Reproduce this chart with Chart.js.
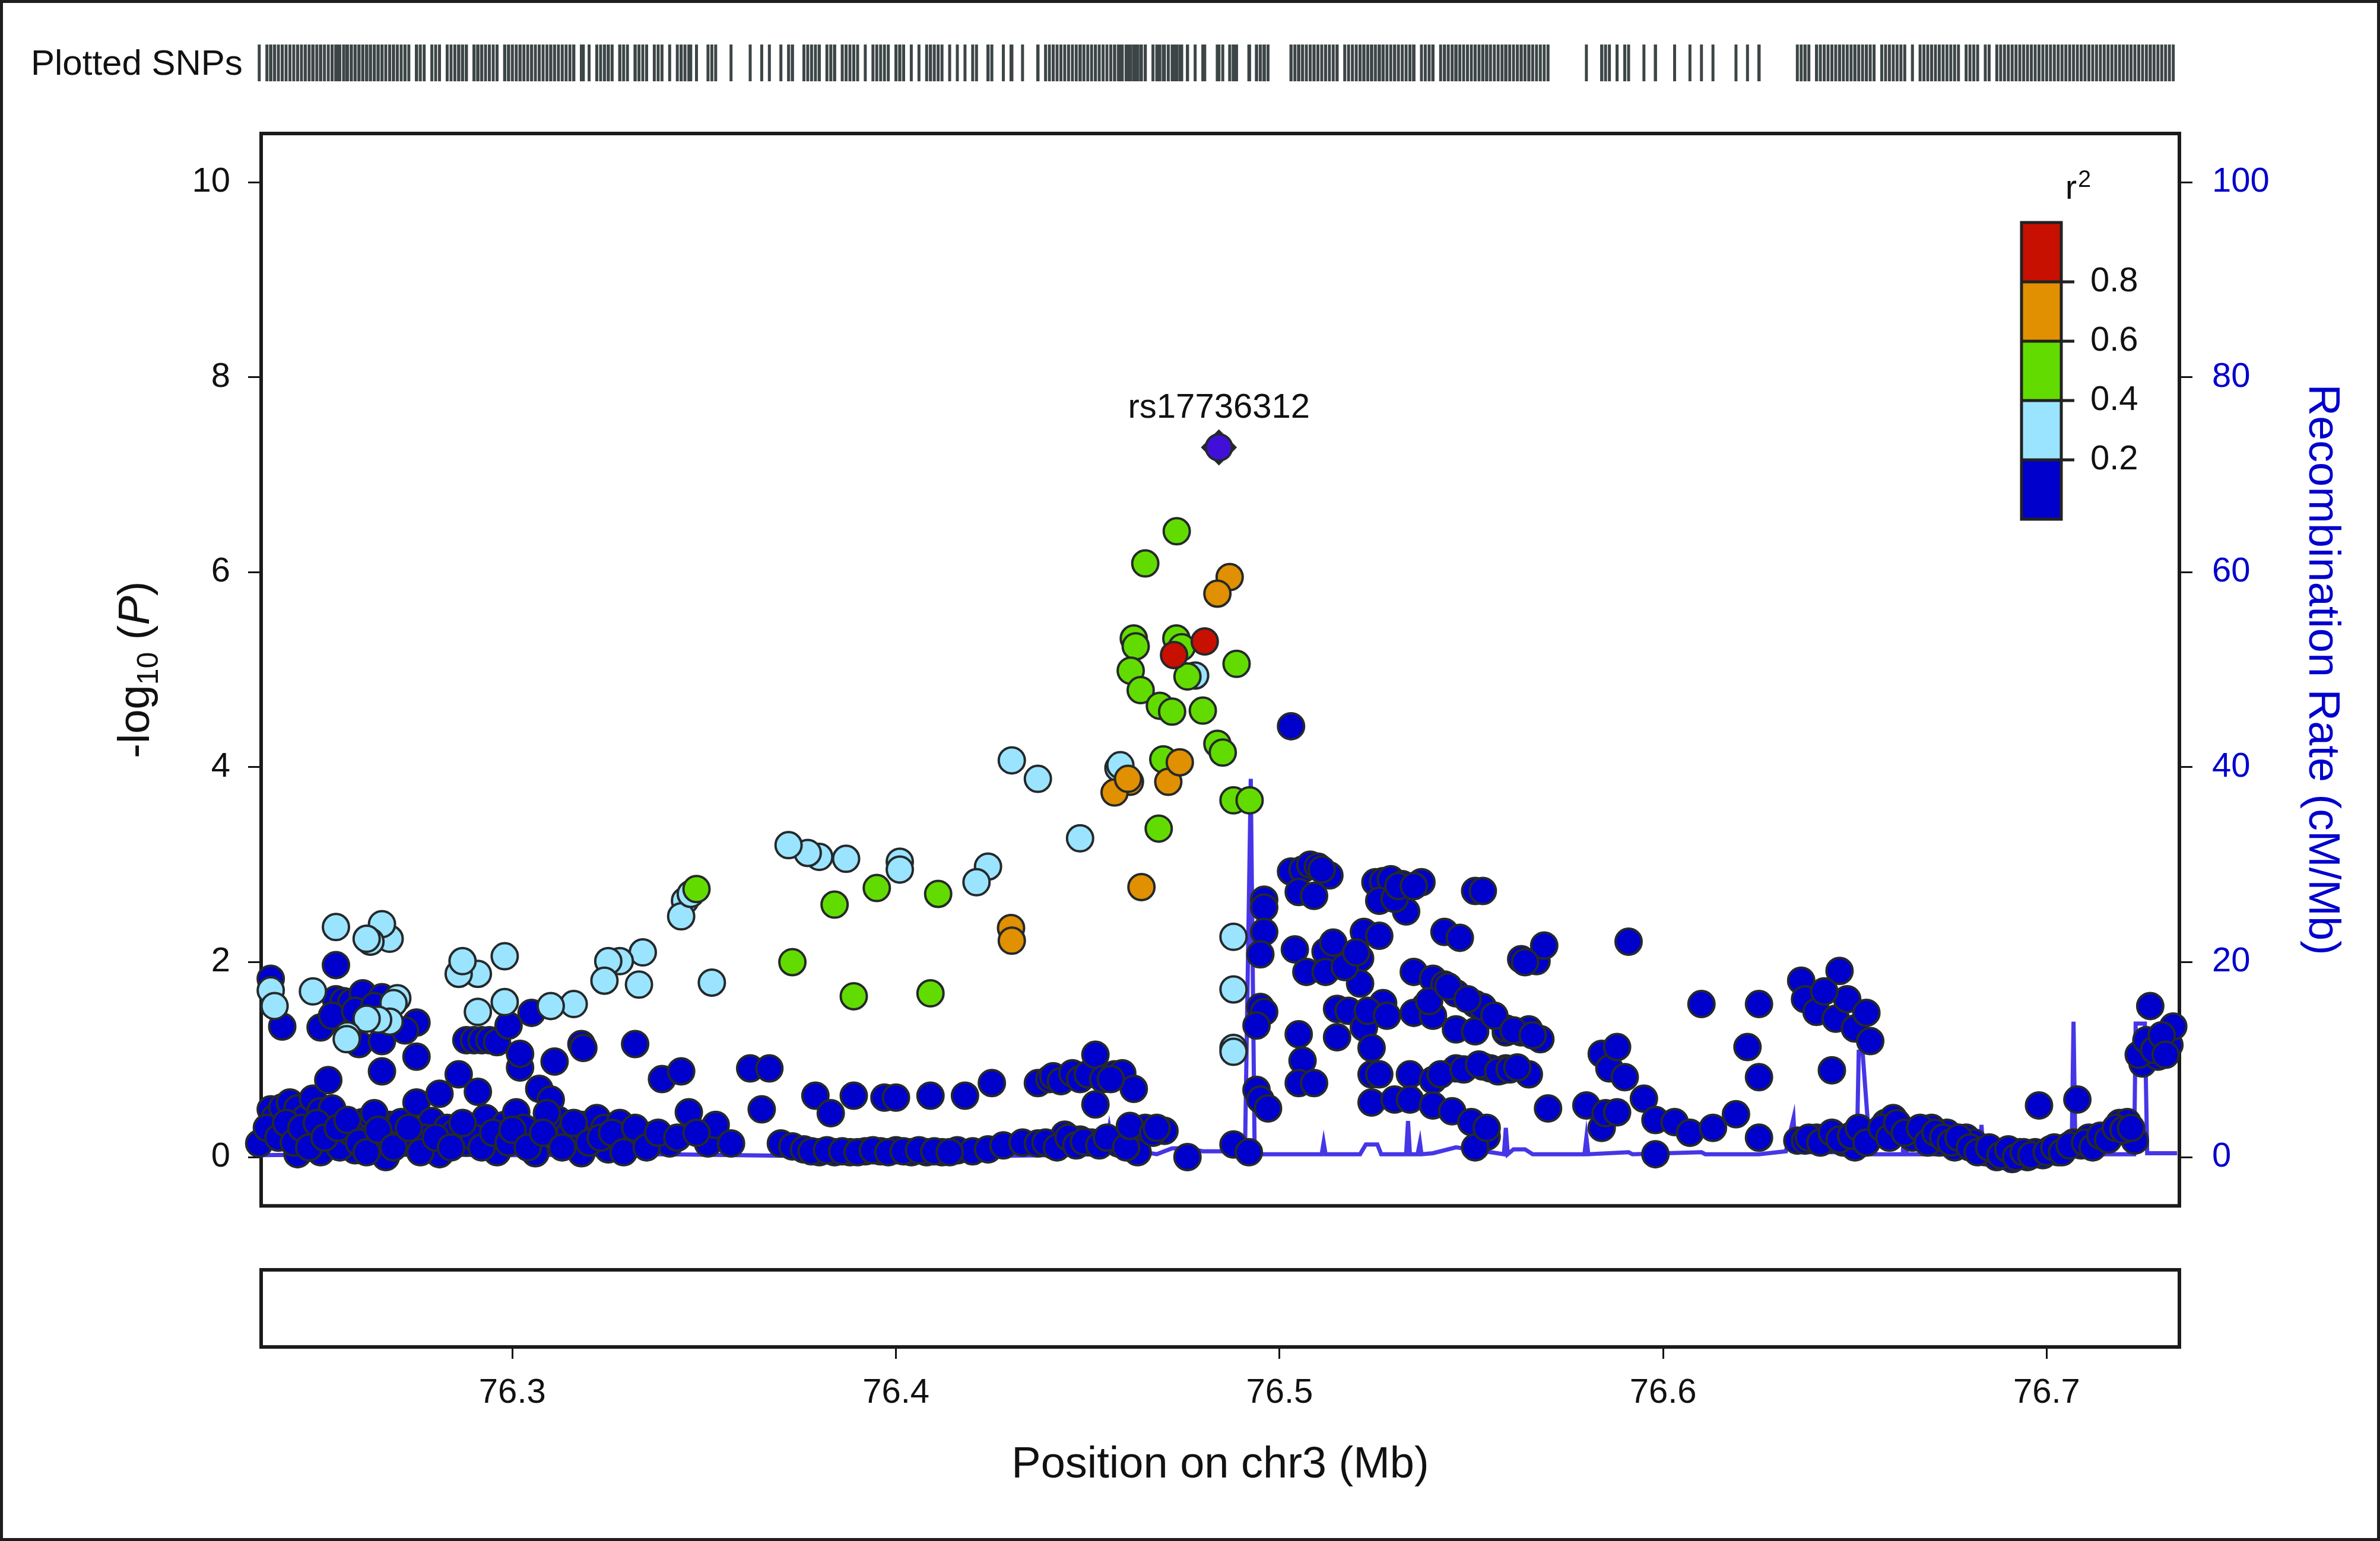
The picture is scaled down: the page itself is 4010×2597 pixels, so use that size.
<!DOCTYPE html>
<html>
<head>
<meta charset="utf-8">
<script src="https://cdn.jsdelivr.net/npm/chart.js@4.4.0/dist/chart.umd.min.js"></script>
<style>
  html, body { margin: 0; padding: 0; background: #fff; }
  #page { position: relative; width: 4010px; height: 2597px; overflow: hidden; background: #fff; }
  .box { position: absolute; left: 0; width: 4010px; }
  #frame { position: absolute; left: 0; top: 0; width: 4010px; height: 2597px; box-sizing: border-box;
           border: 5px solid #1e1e1e; pointer-events: none; z-index: 5; }
  #snpLabel { position: absolute; left: 52px; top: 71px; height: 72px; line-height: 72px;
              font: 60px "Liberation Sans", Arial, sans-serif; color: #111; z-index: 4; }
</style>
</head>
<body>
<div id="page">
  <div class="box" style="top:0;height:200px"><canvas id="rug" width="4010" height="200"></canvas></div>
  <div class="box" style="top:0;height:2100px"><canvas id="main" width="4010" height="2100"></canvas></div>
  <div class="box" style="top:2100px;height:497px"><canvas id="genes" width="4010" height="497"></canvas></div>
  <div id="snpLabel">Plotted SNPs</div>
  <div id="frame"></div>
</div>
<script>
// axis ticks
const xTicks = [76.3, 76.4, 76.5, 76.6, 76.7];
const logpTicks = [0, 2, 4, 6, 8, 10];
const recTicks = [0, 20, 40, 60, 80, 100];

// r2 legend
const ldBreaks = [0.2, 0.4, 0.6, 0.8];
const ldColors = ['#0000CC', '#9BE4FF', '#62DC00', '#E09000', '#C81000'];

// index SNP
const leadName = ['rs17736312'];
const leadSnp = [[76.4842, 7.28]];

// [position Mb, -log10 P] by r2 bin
const redSnps = [[76.4725, 5.15], [76.4805, 5.29]];

const orangeSnps = [
  [76.4870, 5.95], [76.4838, 5.78], [76.4610, 3.85], [76.4570, 3.74], [76.4605, 3.88],
  [76.4710, 3.85], [76.4740, 4.05], [76.4640, 2.77], [76.4300, 2.35], [76.4302, 2.22]
];

const greenSnps = [
  [76.4732, 6.42], [76.4650, 6.09], [76.4620, 5.32], [76.4625, 5.24], [76.4731, 5.32],
  [76.4745, 5.23], [76.4612, 4.99], [76.4638, 4.79], [76.4688, 4.63], [76.4720, 4.57],
  [76.4800, 4.58], [76.4760, 4.93], [76.4888, 5.06], [76.4838, 4.24], [76.4852, 4.15],
  [76.4697, 4.08], [76.4880, 3.66], [76.4922, 3.66], [76.4685, 3.37], [76.3480, 2.75],
  [76.3730, 2.00], [76.3840, 2.59], [76.3950, 2.76], [76.3890, 1.65], [76.4110, 2.70],
  [76.4090, 1.68]
];

const lightBlueSnps = [
  [76.4780, 4.94], [76.4302, 4.07], [76.4370, 3.88], [76.4580, 3.99], [76.4585, 4.02],
  [76.4480, 3.27], [76.4240, 2.98], [76.4210, 2.82], [76.4010, 3.03], [76.4010, 2.95],
  [76.3870, 3.06], [76.3800, 3.08], [76.3770, 3.12], [76.3720, 3.20], [76.3520, 1.79],
  [76.3450, 2.63], [76.3440, 2.47], [76.3465, 2.70], [76.3340, 2.10], [76.3330, 1.77],
  [76.3280, 2.01], [76.3250, 2.01], [76.3240, 1.81], [76.3160, 1.57], [76.3100, 1.55],
  [76.2980, 2.06], [76.2980, 1.59], [76.2910, 1.88], [76.2910, 1.49], [76.2860, 1.88],
  [76.2870, 2.01], [76.2700, 1.63], [76.2690, 1.58], [76.2680, 1.39], [76.2650, 1.41],
  [76.2620, 1.42], [76.2570, 1.25], [76.2568, 1.21], [76.2680, 2.24], [76.2660, 2.39],
  [76.2630, 2.21], [76.2620, 2.24], [76.2540, 2.36], [76.2480, 1.70], [76.2370, 1.71],
  [76.2380, 1.55], [76.4880, 2.26], [76.4880, 1.72], [76.4880, 1.12], [76.4880, 1.08]
];

const blueSnps = [
  [76.2340, 0.14], [76.2370, 1.83], [76.2370, 0.49], [76.2380, 0.40], [76.2400, 0.51],
  [76.2420, 0.56], [76.2440, 0.50], [76.2400, 1.34], [76.2440, 0.03], [76.2460, 0.18],
  [76.2460, 0.40], [76.2480, 0.25], [76.2480, 0.60], [76.2500, 0.05], [76.2500, 0.47],
  [76.2530, 0.50], [76.2520, 0.79], [76.2540, 1.97], [76.2500, 1.33], [76.2540, 1.62],
  [76.2560, 1.60], [76.2580, 1.59], [76.2610, 1.68], [76.2660, 1.64], [76.2600, 1.16],
  [76.2660, 1.19], [76.2750, 1.38], [76.2660, 0.88], [76.2750, 1.03], [76.2610, 0.36],
  [76.2680, 0.33], [76.2710, 0.36], [76.2750, 0.56], [76.2790, 0.37], [76.2810, 0.65],
  [76.2830, 0.30], [76.2860, 0.85], [76.2910, 0.67], [76.2930, 0.40], [76.2880, 0.15],
  [76.2810, 0.03], [76.2670, 0.00], [76.2590, 0.07], [76.2550, 0.10], [76.2720, 0.15],
  [76.2580, 0.25], [76.2630, 0.20], [76.2640, 0.45], [76.2770, 0.20], [76.2850, 0.25],
  [76.2900, 0.20], [76.2880, 1.20], [76.2900, 1.20], [76.2920, 1.20], [76.2940, 1.20],
  [76.2960, 1.18], [76.2960, 0.05], [76.2980, 0.33], [76.3010, 0.46], [76.3020, 0.92],
  [76.3020, 1.06], [76.2990, 1.35], [76.3050, 1.48], [76.3070, 0.70], [76.3100, 0.59],
  [76.3110, 0.98], [76.3050, 0.18], [76.3120, 0.38], [76.3060, 0.04], [76.3030, 0.30],
  [76.3090, 0.45], [76.3140, 0.20], [76.3150, 0.25], [76.3180, 1.16], [76.3185, 1.12],
  [76.3180, 0.33], [76.3180, 0.04], [76.3220, 0.40], [76.3240, 0.30], [76.3250, 0.08],
  [76.3280, 0.35], [76.3300, 0.13], [76.3320, 1.16], [76.3370, 0.23], [76.3390, 0.80],
  [76.3410, 0.14], [76.3440, 0.88], [76.3460, 0.46], [76.3510, 0.14], [76.3530, 0.33],
  [76.3570, 0.14], [76.3620, 0.91], [76.3650, 0.49], [76.3670, 0.91], [76.3700, 0.14],
  [76.3730, 0.11], [76.3760, 0.08], [76.3790, 0.63], [76.3800, 0.05], [76.3830, 0.45],
  [76.3840, 0.05], [76.3880, 0.05], [76.3890, 0.63], [76.3920, 0.06], [76.3960, 0.06],
  [76.3970, 0.61], [76.4000, 0.61], [76.4000, 0.07], [76.4040, 0.05], [76.4080, 0.05],
  [76.4090, 0.63], [76.4120, 0.05], [76.4160, 0.07], [76.4180, 0.63], [76.4200, 0.06],
  [76.4240, 0.08], [76.4250, 0.76], [76.4280, 0.12], [76.4330, 0.15], [76.4370, 0.76],
  [76.4370, 0.14], [76.4400, 0.80], [76.4410, 0.83], [76.4410, 0.12], [76.4430, 0.78],
  [76.4440, 0.23], [76.4460, 0.86], [76.4480, 0.80], [76.4480, 0.18], [76.4500, 0.85],
  [76.4510, 0.15], [76.4520, 1.05], [76.4520, 0.54], [76.4540, 0.80], [76.4570, 0.85],
  [76.4580, 0.14], [76.4590, 0.86], [76.4620, 0.70], [76.4630, 0.05], [76.4650, 0.30],
  [76.4700, 0.27], [76.4760, 0.00], [76.4880, 0.13], [76.4920, 0.05], [76.4960, 2.64],
  [76.4960, 2.56], [76.4960, 2.31], [76.4950, 2.08], [76.4950, 1.54], [76.4960, 1.49],
  [76.4940, 1.35], [76.4940, 0.69], [76.4950, 0.59], [76.4970, 0.50], [76.5030, 4.42],
  [76.5030, 2.93], [76.5060, 2.95], [76.5080, 3.00], [76.5100, 2.98], [76.5130, 2.89],
  [76.5050, 2.72], [76.5090, 2.68], [76.5220, 2.31], [76.5260, 2.27], [76.5040, 2.13],
  [76.5120, 2.11], [76.5070, 1.90], [76.5120, 1.90], [76.5190, 1.98], [76.5210, 2.04],
  [76.5210, 1.78], [76.5150, 1.52], [76.5180, 1.50], [76.5270, 1.58], [76.5050, 1.26],
  [76.5150, 1.23], [76.5220, 1.33], [76.5240, 1.12], [76.5060, 0.99], [76.5050, 0.76],
  [76.5090, 0.76], [76.5240, 0.85], [76.5240, 0.56], [76.5260, 0.85], [76.5300, 0.59],
  [76.5250, 2.82], [76.5270, 2.83], [76.5290, 2.85], [76.5320, 2.80], [76.5370, 2.82],
  [76.5330, 2.52], [76.5260, 2.63], [76.5300, 2.65], [76.5510, 2.73], [76.5530, 2.73],
  [76.5430, 2.31], [76.5470, 2.25], [76.5350, 1.90], [76.5400, 1.83], [76.5430, 1.77],
  [76.5460, 1.68], [76.5510, 1.57], [76.5540, 1.48], [76.5380, 1.55], [76.5350, 1.48],
  [76.5400, 1.45], [76.5460, 1.31], [76.5510, 1.29], [76.5590, 1.28], [76.5630, 1.28],
  [76.5340, 0.85], [76.5400, 0.79], [76.5460, 0.91], [76.5530, 0.93], [76.5590, 0.91],
  [76.5340, 0.59], [76.5400, 0.53], [76.5450, 0.47], [76.5500, 0.36], [76.5540, 0.21],
  [76.5510, 0.10], [76.5540, 0.30], [76.5630, 2.03], [76.5670, 2.01], [76.5690, 2.17],
  [76.5910, 2.21], [76.5530, 1.54], [76.5590, 1.32], [76.5650, 1.31], [76.5680, 1.21],
  [76.5550, 0.91], [76.5580, 0.89], [76.5650, 0.85], [76.5700, 0.50], [76.5800, 0.53],
  [76.5840, 1.06], [76.5840, 0.30], [76.5850, 0.45], [76.5860, 0.91], [76.5880, 1.13],
  [76.5880, 0.46], [76.5900, 0.82], [76.5950, 0.60], [76.5980, 0.38], [76.5980, 0.03],
  [76.6030, 0.36], [76.6070, 0.25], [76.6100, 1.57], [76.6130, 0.30], [76.6190, 0.44],
  [76.6220, 1.13], [76.6250, 1.57], [76.6250, 0.82], [76.6250, 0.20], [76.6350, 0.17],
  [76.6360, 1.81], [76.6370, 1.62], [76.6370, 0.17], [76.6400, 1.49], [76.6400, 0.20],
  [76.6430, 0.18], [76.6440, 0.89], [76.6450, 1.42], [76.6460, 1.91], [76.6470, 0.15],
  [76.6480, 1.62], [76.6500, 1.32], [76.6500, 0.10], [76.6520, 0.20], [76.6530, 1.48],
  [76.6540, 1.19], [76.6550, 0.25], [76.6580, 0.35], [76.6600, 0.40], [76.6620, 0.30],
  [76.6650, 0.20], [76.6680, 0.25], [76.6700, 0.30], [76.6720, 0.15], [76.6740, 0.25],
  [76.6760, 0.10], [76.6790, 0.20], [76.6810, 0.15], [76.6840, 0.05], [76.6870, 0.00],
  [76.6890, 0.05], [76.6910, -0.02], [76.6930, 0.05], [76.6950, 0.00], [76.6970, 0.05],
  [76.6980, 0.53], [76.6990, 0.02], [76.7010, 0.08], [76.7030, 0.05], [76.7050, 0.10],
  [76.7070, 0.15], [76.7080, 0.59], [76.7090, 0.12], [76.7110, 0.20], [76.7130, 0.15],
  [76.7150, 0.20], [76.7170, 0.25], [76.7190, 0.35], [76.7210, 0.36], [76.7230, 0.17],
  [76.7250, 0.96], [76.7270, 1.55], [76.7270, 1.13], [76.7290, 1.03], [76.7320, 1.15],
  [76.7330, 1.34],
  // overlapped SNPs in the crowded low rows and clusters
  [76.2360, 0.30], [76.2390, 0.20], [76.2410, 0.35], [76.2430, 0.15], [76.2450, 0.30],
  [76.2470, 0.10], [76.2490, 0.35], [76.2510, 0.20], [76.2545, 0.30], [76.2570, 0.38],
  [76.2600, 0.15], [76.2620, 0.05], [76.2650, 0.28], [76.2690, 0.10], [76.2730, 0.30],
  [76.2760, 0.05], [76.2800, 0.20], [76.2840, 0.10], [76.2870, 0.35], [76.2920, 0.10],
  [76.2950, 0.25], [76.2990, 0.15], [76.3000, 0.28], [76.3040, 0.10], [76.3080, 0.25],
  [76.3130, 0.10], [76.3160, 0.35], [76.3200, 0.15], [76.3230, 0.20], [76.3260, 0.25],
  [76.3290, 0.05], [76.3320, 0.30], [76.3350, 0.10], [76.3380, 0.25], [76.3430, 0.20],
  [76.3480, 0.25], [76.2530, 1.45], [76.2590, 1.50], [76.2640, 1.55], [76.2720, 1.30],
  [76.3780, 0.06], [76.3820, 0.07], [76.3860, 0.06], [76.3900, 0.05], [76.3940, 0.07],
  [76.3980, 0.05], [76.4020, 0.06], [76.4060, 0.07], [76.4100, 0.06], [76.4140, 0.05],
  [76.4390, 0.15], [76.4420, 0.10], [76.4450, 0.20], [76.4470, 0.12], [76.4490, 0.16],
  [76.4530, 0.12], [76.4550, 0.20], [76.4560, 0.80], [76.4600, 0.10], [76.4610, 0.32],
  [76.4670, 0.25], [76.4680, 0.30], [76.5110, 2.95], [76.5140, 2.20], [76.5170, 1.95],
  [76.5200, 2.10], [76.5230, 1.50], [76.5280, 1.45], [76.5310, 2.78], [76.5350, 2.78],
  [76.5390, 1.60], [76.5420, 0.85], [76.5440, 1.75], [76.5480, 0.90], [76.5490, 1.62],
  [76.5520, 0.95], [76.5560, 1.45], [76.5570, 0.88], [76.5600, 0.90], [76.5610, 1.30],
  [76.5620, 0.92], [76.5660, 1.25], [76.5640, 2.00], [76.6380, 0.20], [76.6410, 0.15],
  [76.6420, 1.70], [76.6440, 0.25], [76.6460, 0.18], [76.6490, 0.22], [76.6510, 0.30],
  [76.6530, 0.15], [76.6570, 0.30], [76.6590, 0.20], [76.6610, 0.35], [76.6630, 0.25],
  [76.6670, 0.30], [76.6690, 0.15], [76.6710, 0.25], [76.6730, 0.20], [76.6750, 0.15],
  [76.6770, 0.20], [76.6800, 0.10], [76.6820, 0.05], [76.6850, 0.10], [76.6880, 0.02],
  [76.6900, 0.08], [76.6920, 0.00], [76.6940, 0.05], [76.6960, 0.02], [76.7000, 0.05],
  [76.7020, 0.10], [76.7040, 0.05], [76.7060, 0.12], [76.7100, 0.15], [76.7120, 0.10],
  [76.7140, 0.22], [76.7160, 0.18], [76.7180, 0.30], [76.7200, 0.28], [76.7220, 0.30],
  [76.7240, 1.05], [76.7260, 1.20], [76.7280, 1.10], [76.7300, 1.25], [76.7310, 1.05]
];

// recombination rate, [position Mb, cM/Mb]
const recombMap = [
  [76.234, 0.2], [76.26, 0.3], [76.30, 0.2], [76.34, 0.3], [76.38, 0.1], [76.42, 0.1],
  [76.44, 0.2], [76.4545, 0.3], [76.4556, 3.0], [76.4565, 0.8], [76.462, 0.7], [76.468, 0.3],
  [76.472, 0.9], [76.476, 0.9], [76.480, 0.6], [76.488, 0.6], [76.4910, 0.6], [76.4925, 38.8],
  [76.4935, 1.0], [76.4945, 0.3], [76.511, 0.3], [76.5115, 1.5], [76.512, 0.3], [76.521, 0.3],
  [76.5225, 1.3], [76.5255, 1.3], [76.5265, 0.3], [76.533, 0.3], [76.5335, 3.7], [76.534, 0.3],
  [76.536, 0.3], [76.5366, 1.5], [76.537, 0.3], [76.540, 0.4], [76.546, 1.0], [76.555, 0.5],
  [76.5585, 0.3], [76.559, 3.0], [76.5595, 0.3], [76.561, 0.8], [76.564, 0.8], [76.566, 0.3],
  [76.5795, 0.3], [76.580, 2.0], [76.5805, 0.3], [76.591, 0.5], [76.592, 0.3], [76.610, 0.5],
  [76.611, 0.3], [76.625, 0.3], [76.632, 0.6], [76.634, 4.0], [76.6345, 0.5], [76.6505, 0.5],
  [76.651, 10.8], [76.652, 10.8], [76.654, 0.3], [76.6625, 0.3], [76.663, 4.6], [76.6635, 0.3],
  [76.6825, 0.3], [76.683, 3.3], [76.6835, 0.3], [76.7065, 0.3], [76.707, 13.9], [76.7075, 0.3],
  [76.7228, 0.3], [76.7232, 13.7], [76.7256, 13.7], [76.7262, 0.4], [76.734, 0.4]
];

const xMin = 76.2345, xMax = 76.7346;
const FONT = '"Liberation Sans", Arial, sans-serif';
Chart.defaults.font.family = FONT;
Chart.defaults.color = '#111';

function pts(list) {
  return list.map(d => ({ x: d[0], y: d[1] }));
}

function snpSet(list, color) {
  return {
    data: pts(list), backgroundColor: color, borderColor: '#25292b',
    borderWidth: 4, pointRadius: 22, clip: false, yAxisID: 'y'
  };
}

const framePlugin = {
  id: 'frame',
  beforeDatasetsDraw(chart) {
    const a = chart.chartArea, ctx = chart.ctx;
    ctx.save();
    ctx.lineWidth = 6;
    ctx.strokeStyle = '#1b1b1b';
    ctx.strokeRect(a.left, a.top, a.right - a.left, a.bottom - a.top);
    ctx.restore();
  }
};

const legendPlugin = {
  id: 'r2legend',
  afterDraw(chart) {
    const a = chart.chartArea, ctx = chart.ctx;
    const left = a.right - 266, top = a.top + 150, w = 67, segH = 100;
    const n = ldColors.length;
    ctx.save();
    for (let i = 0; i < n; i++) {
      const y = top + (n - 1 - i) * segH;
      ctx.fillStyle = ldColors[i];
      ctx.fillRect(left, y, w, segH);
    }
    ctx.strokeStyle = '#222';
    ctx.lineWidth = 5;
    ctx.strokeRect(left, top, w, segH * n);
    ctx.font = '58px ' + FONT;
    ctx.fillStyle = '#111';
    ctx.textBaseline = 'middle';
    ctx.textAlign = 'left';
    ldBreaks.forEach((b, k) => {
      const y = top + (n - 1 - k) * segH;
      ctx.beginPath();
      ctx.moveTo(left, y);
      ctx.lineTo(left + w + 22, y);
      ctx.stroke();
      ctx.fillText(b.toFixed(1), left + w + 49, y);
    });
    // r^2 heading
    ctx.textBaseline = 'alphabetic';
    ctx.textAlign = 'right';
    ctx.fillText('r', left + 93, top - 40);
    ctx.font = '40px ' + FONT;
    ctx.textAlign = 'left';
    ctx.fillText('2', left + 95, top - 60);
    ctx.restore();
  }
};

const leadLabelPlugin = {
  id: 'leadLabel',
  afterDatasetsDraw(chart) {
    const ctx = chart.ctx, xs = chart.scales.x, ys = chart.scales.y;
    ctx.save();
    ctx.font = '58px ' + FONT;
    ctx.fillStyle = '#111';
    ctx.textAlign = 'center';
    ctx.textBaseline = 'middle';
    leadSnp.forEach((d, i) => {
      ctx.fillText(leadName[i], xs.getPixelForValue(d[0]), ys.getPixelForValue(d[1]) - 66);
    });
    ctx.restore();
  }
};

const yTitlePlugin = {
  id: 'yTitle',
  afterDraw(chart) {
    const ctx = chart.ctx, a = chart.chartArea;
    const parts = [
      { t: '-log', f: '74px ' + FONT, dy: 0 },
      { t: '10', f: '50px ' + FONT, dy: 15 },
      { t: ' (', f: '74px ' + FONT, dy: 0 },
      { t: 'P', f: 'italic 74px ' + FONT, dy: 0 },
      { t: ')', f: '74px ' + FONT, dy: 0 }
    ];
    ctx.save();
    let total = 0;
    parts.forEach(p => { ctx.font = p.f; p.w = ctx.measureText(p.t).width; total += p.w; });
    ctx.translate(232, (a.top + a.bottom) / 2);
    ctx.rotate(-Math.PI / 2);
    ctx.fillStyle = '#111';
    ctx.textBaseline = 'alphabetic';
    ctx.textAlign = 'left';
    let x = -total / 2;
    parts.forEach(p => { ctx.font = p.f; ctx.fillText(p.t, x, 19 + p.dy); x += p.w; });
    ctx.restore();
  }
};

const tickGrid = { drawOnChartArea: false, drawTicks: true, tickLength: 22, tickWidth: 3, tickColor: '#111' };

// main association panel
new Chart(document.getElementById('main'), {
  type: 'scatter',
  data: {
    datasets: [
      { data: pts(leadSnp), backgroundColor: '#4010D8', borderColor: '#25292b', borderWidth: 4,
        pointRadius: 22, clip: false, yAxisID: 'y' },
      { data: pts(leadSnp), backgroundColor: '#25292b', borderColor: '#25292b', borderWidth: 2,
        pointStyle: 'rectRot', pointRadius: 29, clip: false, yAxisID: 'y' },
      snpSet(redSnps, ldColors[4]),
      snpSet(orangeSnps, ldColors[3]),
      snpSet(greenSnps, ldColors[2]),
      snpSet(lightBlueSnps, ldColors[1]),
      snpSet(blueSnps, ldColors[0]),
      { type: 'line', data: pts(recombMap), yAxisID: 'yr', borderColor: '#4636E6', borderWidth: 7,
        pointRadius: 0, tension: 0, fill: false, clip: false }
    ]
  },
  options: {
    responsive: false,
    animation: false,
    layout: { padding: { top: 225, bottom: 41, left: 0, right: 0 } },
    plugins: { legend: { display: false }, tooltip: { enabled: false } },
    scales: {
      x: { type: 'linear', min: xMin, max: xMax, display: false },
      y: {
        position: 'left', min: -0.5, max: 10.5,
        afterBuildTicks: s => { s.ticks = logpTicks.map(v => ({ value: v })); },
        afterFit: s => { s.width = 440; },
        ticks: { padding: 30, font: { size: 58 }, color: '#111' },
        grid: tickGrid,
        border: { display: false }
      },
      yr: {
        position: 'right', min: -5, max: 105,
        afterBuildTicks: s => { s.ticks = recTicks.map(v => ({ value: v })); },
        afterFit: s => { s.width = 338; },
        ticks: { padding: 33, font: { size: 58 }, color: '#0000CC' },
        grid: tickGrid,
        border: { display: false },
        title: { display: true, text: 'Recombination Rate (cM/Mb)', color: '#0000CC',
                 font: { size: 74 }, padding: { top: 54, bottom: 0 } }
      }
    }
  },
  plugins: [framePlugin, legendPlugin, leadLabelPlugin, yTitlePlugin]
});

// plotted SNP rug
const allSnps = [].concat(leadSnp, redSnps, orangeSnps, greenSnps, lightBlueSnps, blueSnps);
new Chart(document.getElementById('rug'), {
  type: 'scatter',
  data: {
    datasets: [{
      data: allSnps.map(d => ({ x: d[0], y: 0 })),
      pointStyle: 'line', rotation: 90, pointRadius: 31,
      borderColor: '#3d4647', borderWidth: 5, clip: false
    }]
  },
  options: {
    responsive: false,
    animation: false,
    layout: { padding: { top: 75, bottom: 63, left: 440, right: 338 } },
    plugins: { legend: { display: false }, tooltip: { enabled: false } },
    scales: {
      x: { type: 'linear', min: xMin, max: xMax, display: false },
      y: { min: -1, max: 1, display: false }
    }
  }
});

// gene panel (empty) with position axis
new Chart(document.getElementById('genes'), {
  type: 'scatter',
  data: { datasets: [] },
  options: {
    responsive: false,
    animation: false,
    layout: { padding: { top: 40, bottom: 0, left: 440, right: 338 } },
    plugins: { legend: { display: false }, tooltip: { enabled: false } },
    scales: {
      x: {
        type: 'linear', min: xMin, max: xMax, position: 'bottom',
        afterBuildTicks: s => { s.ticks = xTicks.map(v => ({ value: v })); },
        afterFit: s => { s.height = 327; },
        ticks: { padding: 23, font: { size: 58 }, color: '#111', maxRotation: 0,
                 callback: v => Number(v).toFixed(1) },
        grid: { drawOnChartArea: false, drawTicks: true, tickLength: 20, tickWidth: 3, tickColor: '#111' },
        border: { display: false },
        title: { display: true, text: 'Position on chr3 (Mb)', color: '#111',
                 font: { size: 74 }, padding: { top: 0, bottom: 83 } }
      },
      y: { min: 0, max: 1, display: false }
    }
  },
  plugins: [framePlugin]
});
</script>
</body>
</html>
